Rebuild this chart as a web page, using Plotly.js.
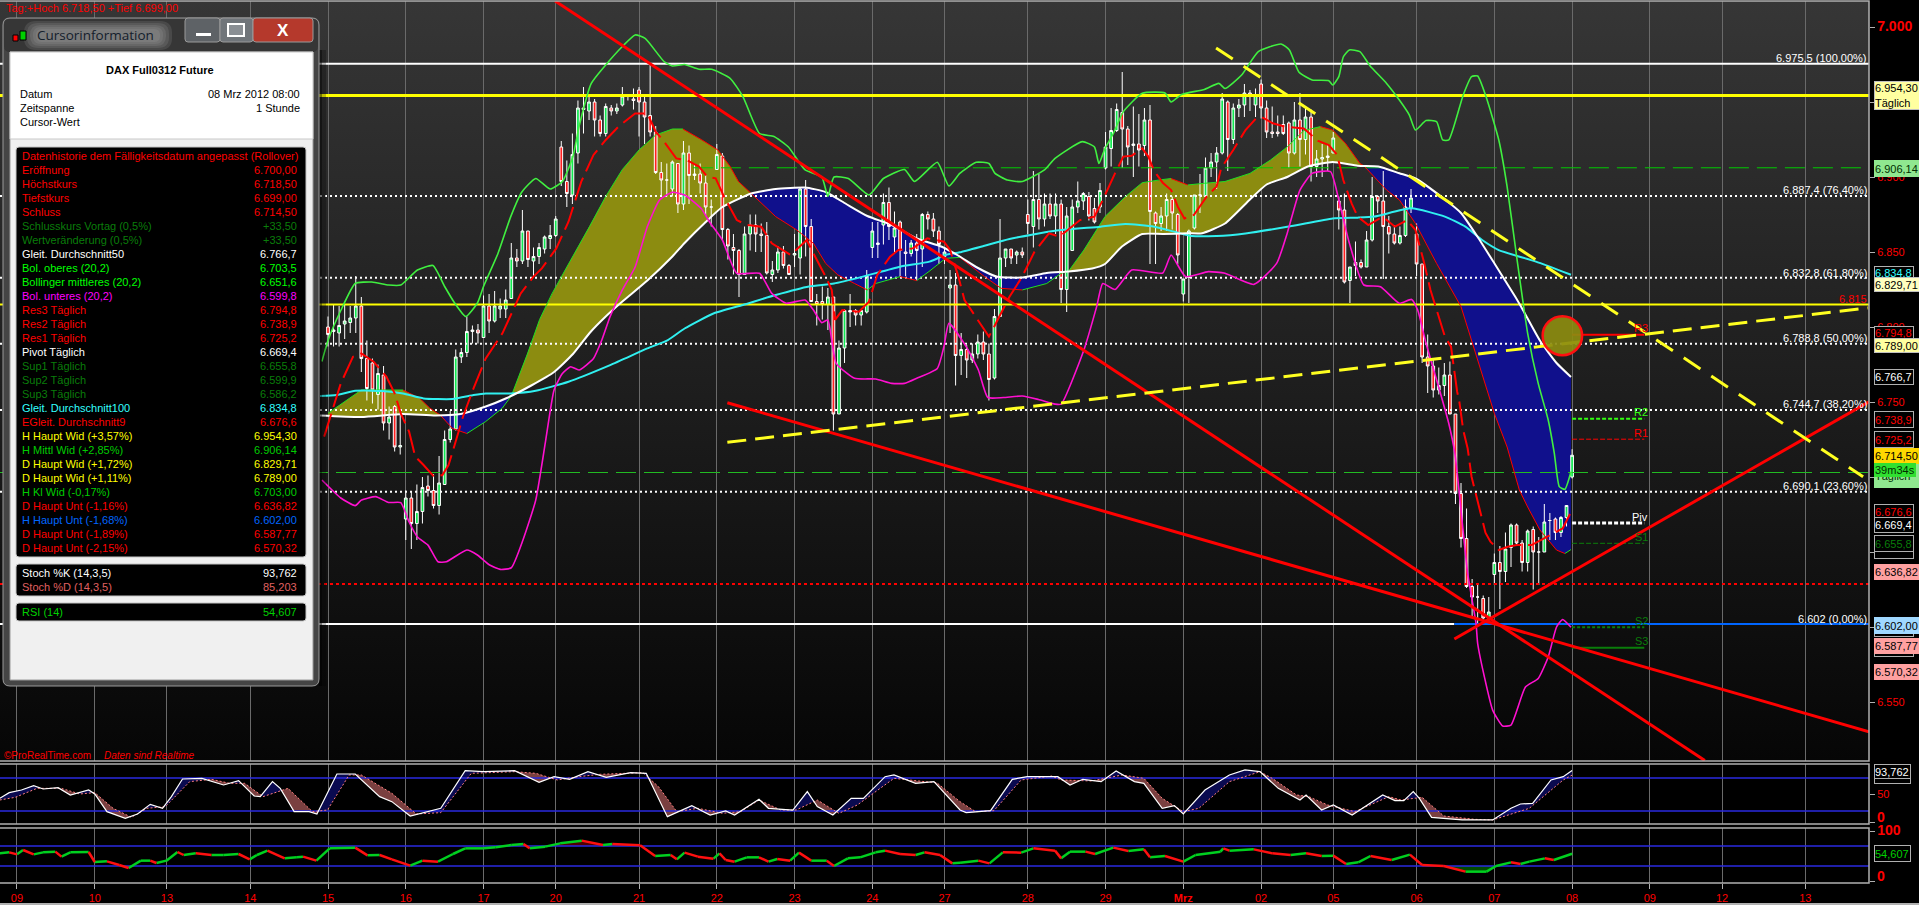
<!DOCTYPE html>
<html>
<head>
<meta charset="utf-8">
<script src="https://cdn.plot.ly/plotly-3.0.1.min.js"></script>
<style>
html,body{margin:0;padding:0;background:#000;overflow:hidden;width:1919px;height:905px}
#bg{position:absolute;left:0;top:1px;width:1869px;height:760px;background:linear-gradient(#363636,#060606)}
#chart{position:absolute;left:0;top:0;width:1919px;height:905px}
</style>
</head>
<body>
<div id="bg"></div>
<div id="chart"></div>
<script>
// ---------- axis labels ----------
const gridBars=[0,14,27,42,56,70,84,97,112,126,140,154,167,182,196,210,224,237,252,266,280,294,307,322];
const dayLabels=['09','10','13','14','15','16','17','20','21','22','23','24','27','28','29','<b>Mrz</b>','02','05','06','07','08','09','12','13'];
const priceTicks=[7000,6950,6900,6850,6800,6750,6700,6650,6600,6550];
const priceTickText=['<span style="font-size:14px"><b>7.000</b></span>','','6.900','6.850','6.800','6.750','','','','6.550'];

// ---------- hourly candles, first bar is number 56 ----------
const firstBar=56;
const candleOpen=[6800,6797,6796,6802,6803,6806,6814,6779,6776,6755,
6768,6736,6747,6720,6672,6686,6669,6677,6694,6691,
6681,6695,6725,6732,6780,6783,6797,6798,6793,6814,
6804,6812,6812,6819,6846,6844,6864,6844,6847,6852,
6859,6861,6920,6897,6888,6916,6946,6944,6950,6938,
6929,6946,6944,6948,6954,6952,6958,6950,6941,6930,
6903,6898,6892,6909,6882,6916,6901,6902,6896,6880,
6905,6914,6865,6853,6851,6835,6862,6868,6862,6861,
6835,6838,6850,6841,6848,6846,6892,6867,6817,6817,
6815,6820,6742,6786,6811,6811,6808,6810,6853,6855,
6868,6883,6860,6870,6850,6849,6856,6852,6875,6872,
6864,6847,6826,6828,6781,6785,6778,6782,6790,6782,
6766,6807,6846,6852,6848,6850,6875,6867,6885,6872,
6882,6874,6882,6825,6851,6880,6884,6887,6879,6880,
6906,6919,6931,6943,6932,6921,6922,6921,6938,6876,
6869,6874,6885,6875,6822,6833,6866,6888,6887,6906,
6910,6916,6950,6925,6946,6948,6956,6948,6962,6946,
6930,6930,6935,6936,6916,6938,6925,6940,6907,6912,
6913,6916,6884,6878,6831,6843,6843,6840,6858,6887,
6884,6867,6862,6856,6861,6879,6862,6842,6780,6774,
6758,6761,6768,6742,6689,6659,6627,6620,6619,6606,
6635,6643,6637,6653,6668,6656,6643,6665,6650,6650,
6671,6672,6663,6673,6700];
const candleHigh=[6807,6815,6814,6815,6814,6834,6820,6791,6779,6775,
6774,6747,6748,6745,6691,6690,6695,6700,6701,6702,
6714,6731,6744,6785,6786,6807,6801,6802,6821,6822,
6824,6819,6825,6856,6852,6878,6864,6853,6856,6861,
6868,6874,6924,6911,6929,6951,6960,6954,6952,6941,
6949,6948,6949,6960,6955,6959,6960,6954,6975,6934,
6910,6909,6911,6909,6924,6921,6909,6909,6902,6885,
6922,6916,6866,6862,6852,6867,6875,6875,6869,6870,
6844,6854,6854,6842,6862,6893,6898,6872,6822,6827,
6826,6820,6791,6812,6822,6812,6811,6838,6870,6870,
6889,6893,6877,6871,6858,6858,6862,6876,6877,6876,
6867,6852,6838,6836,6796,6788,6789,6795,6797,6789,
6812,6872,6852,6852,6851,6853,6885,6904,6902,6889,
6889,6889,6885,6880,6885,6897,6890,6890,6886,6896,
6930,6946,6949,6970,6934,6947,6942,6946,6948,6877,
6880,6889,6887,6876,6832,6865,6888,6902,6913,6916,
6920,6956,6951,6949,6952,6962,6958,6959,6965,6951,
6947,6941,6941,6937,6950,6956,6946,6945,6918,6922,
6922,6930,6887,6889,6840,6857,6845,6864,6900,6888,
6904,6874,6868,6867,6885,6892,6869,6842,6795,6779,
6773,6776,6777,6742,6696,6679,6632,6628,6621,6620,
6649,6654,6663,6669,6669,6658,6665,6667,6660,6682,
6676,6673,6674,6681,6718.5];
const candleLow=[6787,6787,6787,6792,6796,6796,6770,6751,6749,6745,
6731,6725,6717,6715,6658,6652,6658,6669,6687,6679,
6675,6695,6723,6731,6776,6780,6789,6789,6793,6796,
6803,6806,6806,6819,6840,6842,6840,6834,6842,6849,
6852,6860,6894,6880,6882,6909,6929,6938,6927,6927,
6927,6941,6942,6947,6951,6945,6927,6922,6927,6902,
6888,6887,6887,6876,6878,6882,6898,6889,6874,6867,
6905,6858,6845,6835,6820,6835,6851,6850,6850,6835,
6830,6836,6839,6835,6840,6835,6847,6817,6801,6805,
6798,6731,6742,6776,6800,6801,6801,6809,6846,6846,
6855,6858,6849,6834,6834,6847,6831,6840,6865,6860,
6842,6842,6796,6761,6768,6766,6776,6779,6778,6751,
6765,6807,6840,6842,6842,6846,6862,6853,6865,6867,
6872,6862,6816,6810,6851,6876,6878,6871,6869,6876,
6905,6907,6930,6906,6908,6900,6907,6914,6842,6842,
6864,6864,6865,6842,6817,6816,6865,6876,6886,6900,
6892,6915,6904,6922,6940,6940,6944,6940,6939,6926,
6926,6927,6928,6906,6915,6907,6915,6897,6900,6900,
6904,6916,6865,6829,6816,6834,6839,6840,6857,6876,
6832,6849,6855,6855,6860,6876,6834,6776,6756,6753,
6755,6754,6742,6682,6653,6626,6607,6602,6602,6602,
6628,6612,6630,6640,6655,6637,6637,6625,6628,6650,
6658,6658,6660,6667,6699];
const candleClose=[6795,6798,6801,6804,6806,6814,6779,6759,6758,6769,
6736,6740,6720,6721,6686,6669,6677,6693,6691,6681,
6696,6725,6732,6780,6783,6797,6798,6796,6814,6804,
6814,6814,6818,6846,6844,6864,6845,6847,6853,6860,
6861,6872,6897,6889,6915,6946,6945,6950,6938,6929,
6947,6944,6946,6954,6954,6951,6950,6940,6930,6903,
6898,6898,6910,6882,6916,6901,6902,6896,6880,6880,
6915,6865,6854,6851,6835,6862,6868,6862,6861,6836,
6838,6850,6841,6835,6849,6892,6867,6817,6815,6815,
6820,6742,6786,6811,6810,6808,6811,6834,6864,6856,
6883,6867,6866,6851,6849,6856,6851,6875,6872,6864,
6855,6850,6828,6781,6785,6778,6782,6790,6782,6765,
6807,6846,6852,6846,6850,6848,6869,6885,6872,6882,
6874,6882,6825,6874,6880,6884,6889,6874,6870,6891,
6920,6931,6945,6932,6920,6922,6918,6938,6877,6869,
6874,6885,6876,6848,6832,6864,6888,6888,6906,6910,
6916,6952,6925,6946,6948,6956,6955,6955,6946,6930,
6929,6929,6929,6916,6938,6925,6940,6907,6912,6913,
6914,6926,6878,6830,6840,6841,6840,6858,6887,6884,
6867,6862,6856,6861,6880,6886,6842,6780,6774,6758,
6761,6768,6742,6689,6659,6627,6620,6620,6606,6610,
6643,6637,6652,6668,6656,6643,6664,6650,6650,6670,
6671,6663,6673,6681,6714.5];

// ---------- moving averages ----------
const ma50Bar=[54.55,62,69.5,75.4,79.9,84.4,88.1,92.6,96.7,100.1,103.1,106,109,113.5,118,120.2,124,127,132.2,136.6,141.9,145.6,149.3,153.1,157.5,162,166.5,169.75,172.7,176.5,181,185.4,189.3,193.6,195.9,198.9,202.6,206.3,210.8,213.4,217.5,222,225,228.7,232.4,236.9,241.4,245.1,248.9,251.8,257.1,260,263,266,269.8,271.2,274.2,277.2,279.8];
const ma50Val=[6741,6740,6742,6741,6742,6747,6752.5,6761,6770,6782,6796,6807,6817,6831,6847,6856,6870,6880,6889,6892,6893,6890,6882,6874,6868,6859,6853.5,6847,6840,6833.5,6833,6836,6837,6839,6842,6853.5,6862,6862,6862.5,6862.5,6869,6885,6895,6900,6907,6910,6907.5,6907,6902.5,6899,6885,6876,6860,6842.5,6820,6811,6791,6776,6766.7];
const bolMidBar=[56,62,69.5,72.5,74.3,76.2,78.4,81,84.4,87.4,89,91.9,94.1,96.3,99.3,103.1,106,109,112,115,118,119.9,123.2,126.2,128.4,129.9,132.2,136.6,140.4,143.4,145.6,147.8,150.8,153.1,154.6,159,162,164.2,167.2,169.75,174.2,177.2,181,185.4,188,189.3,192.1,195.9,199.6,202.6,205.6,207.8,210.8,213.8,217.5,222,225.7,228.7,231.7,234.7,236.9,239.2,241.8,242.5,246.6,248.9,251.8,255.6,260,263,266,268.3,270.5,272,274.2,277.2,278.7,279.8];
const bolMidVal=[6742.5,6758,6758,6752.5,6746,6741.3,6732.4,6729,6737,6746,6754,6782,6805,6822,6842,6867,6887,6905,6918,6928,6932,6932,6925,6918,6907,6897,6889,6873.6,6864.7,6855.8,6842.4,6834.7,6829,6824.7,6829,6833.6,6831,6837,6845.8,6846.4,6833.6,6825.8,6824.7,6829,6835.8,6837,6851.3,6873.6,6887,6896.2,6898,6899,6894.7,6895.8,6897,6902.4,6911.3,6920,6931,6933.6,6931.3,6922.4,6909,6907.5,6891.3,6884.7,6869,6842.4,6813.6,6778,6742.4,6720,6691.3,6680,6664.7,6651.3,6649,6651.6];
const bolUpBar=[54.9,56,58.3,60.9,63.9,66.9,69.1,72.1,74.9,77,78.8,80.8,82.9,84,86.6,88.9,90.9,93.4,96,98.2,100.1,101.2,103.4,106,109,111.3,113.1,116.5,118,120.2,122.8,125.1,128.4,130.7,133.7,136.3,138.9,141.9,144.9,146,147.1,149.7,153.4,156,159.8,161.6,165.7,167.8,169.75,172.7,175,176.1,178.3,181,185,186.9,191.8,194,194.8,195.9,197.4,199.2,202.6,206.7,207.8,209.7,213.8,216.4,217.5,220.5,223.5,227.6,229.1,230.8,233.2,236.2,236.9,238,238.8,239.9,241.8,243.6,246.6,248.9,250.7,251.8,253.7,255.6,256.7,257.8,260.4,261.9,263,264.5,266.8,268.3,270.1,272,273.9,275.7,276.8,277.7,278.7,279.8];
const bolUpVal=[6777,6791,6811,6829,6830,6828,6828,6838,6841,6827,6816,6807,6816,6827,6849,6873.6,6890,6899,6892,6897,6913.6,6933.6,6962.4,6974.7,6987,6994.7,6992.4,6977,6974,6975,6971.8,6971.8,6965.8,6953.6,6929,6927,6920,6904.7,6900,6887,6900,6899,6888,6899,6905,6897,6909.8,6894,6902.4,6909.8,6909,6902.4,6898,6897,6904.7,6912.4,6923.6,6920,6909,6919,6929,6943.6,6955.8,6956,6950,6955,6958.4,6962.4,6959,6968,6983.6,6988.7,6984.7,6970,6964.7,6964.2,6961.3,6966.9,6980,6984.7,6983.6,6974.2,6962.4,6951.3,6941.3,6931.3,6937.6,6936.9,6924.7,6924.7,6954.7,6966.9,6967.3,6953.6,6924.7,6893.6,6844.7,6795.8,6762.4,6738,6715.8,6693.6,6691.8,6703.5];
const bolLowBar=[54.9,58.3,60.9,62,64.6,66.9,69.1,70.6,72.1,74,75.8,77.3,81,82.9,85.1,87,89,91.1,93.4,95.2,96.7,98.2,99.7,101.2,103.8,105.3,106.8,109,111.3,113.5,115.7,118,120.2,123.2,124.7,127,129.6,133.7,135.9,138.5,141.9,143.4,144.9,146,147.5,150.8,154.6,157.5,159.8,162,165.7,166.9,167.8,170.9,173.1,174.8,177.6,181,183.9,186.9,188,192.1,194.4,195.5,197.7,200.7,206.3,207.8,210.4,214.5,217.5,222.7,226.8,228.7,231,233.2,236.5,238,239.9,242.5,245.5,248.9,251.1,252.2,253.7,256.3,257.8,258.9,261.2,262.7,263,264.2,265.7,267.5,269,271.6,273.9,275.7,277.2,278.3,279.8];
const bolLowVal=[6698,6686,6680.9,6684.6,6686.9,6683,6682.9,6670,6660,6654.6,6643.5,6643.5,6651.3,6648,6641.3,6638.4,6639.5,6658,6684.6,6724.6,6758,6769,6773.5,6771.3,6779,6791.3,6807,6824.7,6840,6867,6884.7,6889.8,6888,6879,6870,6858,6835.8,6835.8,6822.4,6815.8,6818,6811.3,6802.9,6804.7,6775.8,6765.8,6765.3,6762.4,6762.4,6765.8,6772.4,6787,6802.4,6786.9,6771.3,6753,6753,6754,6751.7,6748.6,6748.6,6784.7,6813.6,6829,6825,6838,6836,6848,6833.6,6836.9,6835.8,6828.4,6842.4,6862.4,6891.3,6902.4,6903.6,6884.7,6855.8,6828,6826.9,6815.8,6818.4,6811.3,6789.1,6755.8,6735.7,6715.7,6635.7,6602.4,6589,6566.9,6544.6,6534,6534.6,6560,6565.7,6580,6600,6605,6599.8];
const ma100Bar=[54.55,57.5,60.9,65.7,69.5,73.2,78.4,82.2,84.4,88.9,93.4,99.3,106.8,113.5,117.2,120.2,125.4,130.7,136.6,142.6,147.1,152.3,159,164.3,167.2,169.75,174.2,178.7,186.9,195.1,199.6,204.8,211.5,216,221.2,229.5,236.9,241.4,244.4,251.1,257.1,260.8,263.8,266.8,273.5,279.8];
const ma100Val=[6754,6754.6,6757.5,6757.3,6755.7,6752.4,6752,6754.6,6755.7,6755.7,6757.5,6763.5,6774.6,6785.7,6791.3,6799,6809,6814.7,6821.3,6827,6829,6833.6,6840.2,6843.6,6848,6849.8,6854.2,6858.7,6864.2,6866.9,6868.7,6866.9,6860.7,6860.7,6862.4,6867.3,6872.4,6872.9,6873.6,6879.1,6873.6,6866.9,6858,6851.3,6843.6,6834.8];
const ema9Bar=[55.3,58.3,60.5,62,64.2,66.5,68,69.1,70.6,71.7,73.2,75.1,76.6,77.7,78.8,80.3,82.2,84.4,87.4,89.6,90.7,93,94.5,97.1,99.3,101.6,103.8,106,108.3,111.3,113.5,115,116.5,118.7,120.6,122.8,124.3,125.8,127.3,129.6,131.4,134,135.9,139.3,141,142.2,143.4,145.6,146.7,147.3,148.6,151.6,153.4,154.9,157.2,158.7,161.3,163.9,166.9,168,169.5,170.6,171.6,173.9,175,176.1,178.7,181,183.2,185.8,187.7,189.9,191.4,194,195.5,197.7,199.2,200.7,202.6,203.7,204.8,206.3,207.8,209,210.2,211.9,214.2,216,216.8,219,221.2,223.1,224.2,226.1,228.3,231.7,234.3,236.2,237.7,238.8,240.3,241.4,243.3,245.9,248.1,250.3,251.8,253.3,254.5,257.1,258.2,259.3,259.7,260.4,261.2,261.9,263.4,264.4,265.3,266.8,268.4,270.1,272.7,275,278.3,279.8];
const ema9Val=[6726.9,6762.4,6780.2,6782.4,6776.9,6766.9,6755.8,6742.4,6730.2,6713.6,6708,6700.2,6701.3,6708,6721.3,6740.2,6759.1,6779.1,6795.8,6813.6,6822.4,6833.6,6839.1,6852.4,6870.2,6896.9,6914.7,6924.7,6933.6,6942.4,6942.4,6930.2,6923.6,6912.4,6911.3,6906.9,6900.2,6899.1,6886.9,6871.3,6868,6866.9,6855.8,6848,6853.6,6858,6849.1,6833.6,6824.7,6804.7,6811.3,6810.2,6816.9,6834.7,6846.9,6851.3,6852.4,6859.1,6856.9,6851.3,6833.6,6818,6812.4,6800.2,6793.6,6801.3,6820.2,6833.6,6850.2,6862.4,6860.2,6866.9,6871.3,6873.6,6884.7,6902.4,6913.6,6914.2,6919.1,6913.6,6903.6,6896.2,6891.3,6880.2,6872.4,6874.7,6886.9,6893.6,6905.8,6918,6931.3,6939.1,6939.8,6935.8,6933.6,6932.4,6924,6921.3,6914.7,6898,6882.4,6873.6,6868,6873.6,6866.9,6871.3,6864.7,6843.6,6824.7,6793.6,6786.9,6757,6750.2,6731.3,6719,6700.2,6678,6662.9,6656.9,6651.3,6653.5,6654.6,6654.6,6659,6665.7,6676.6];

// ---------- support / resistance levels ----------
const fibValues=[6975.5,6887.4,6832.8,6788.8,6744.7,6690.1,6602];
const fibLabels=['6.975,5 (100,00%)','6.887,4 (76,40%)','6.832,8 (61,80%)','6.788,8 (50,00%)','6.744,7 (38,20%)','6.690,1 (23,60%)','6.602 (0,00%)'];
const majorRes=6954.3, midRes=6906.14, dayRes=6815, minorRes=6703, daySup=6628.7, majorSup=6602;
const pivotValues=[6794.8,6738.9,6725.2,6669.4,6655.8,6599.9,6586.2];
const pivotNames=['R3','R2','R1','Piv','S1','S2','S3'];

// ---------- trend lines: [bar, price] ends ----------
const trendABars=[96.9,303.9], trendAVals=[7017.3,6511];
const trendBBars=[127.9,333.46], trendBVals=[6749.5,6530.2];
const trendCBars=[258.8,333.46], trendCVals=[6592,6750.2];
const yellowABars=[127.9,333.3], yellowAVals=[6723.1,6812.7];
const yellowBBars=[215.9,332.4], yellowBVals=[6986,6700.2];

// ---------- oscillators ----------
const stochKBar=[-3.1,-1.4,0.8,3,4.7,7.4,9.6,12.9,14,16.2,19.5,21.7,24,26.2,27.8,29.8,33.3,37.2,39.9,42.7,43.8,46,47.4,49.9,52.6,54,57.6,60.9,65.3,67.5,70.8,74.1,76.3,80.7,84,89.6,94,96.7,99.5,102.8,106.1,110.5,113.3,117.1,121.5,124.8,127.6,129.2,133.6,135.3,139.7,142.3,144.1,146.9,150.2,152.4,156.3,157.9,161.8,165.1,169.8,170.9,175.3,179.2,181.9,187.4,189.6,191.9,195.2,197.9,201.2,202.9,206.2,208.4,210,213.9,218.3,221.1,223.8,227.1,231,232.1,234.9,237,240.4,245.9,248.1,249.7,251.4,252.5,254.7,260.2,265.7,269,270.7,272.9,276.2,278.4,280];
const stochKVal=[43,53.4,58.2,66.1,60,62.4,49.1,58.2,50.9,18.8,6.7,14.6,32.1,24.9,46.1,78.2,79.4,67.3,75.2,47.3,46.1,73.4,61.2,18.8,18.8,14.6,87.3,87.3,46.1,37,10.9,18.8,24.9,93.3,91.5,93.3,72.1,82.4,77.6,91.5,81.2,89.7,88.5,9.7,29.7,12.7,20,12.7,41.2,24.9,21.8,55.2,27.9,12.7,43,43,82.4,85.5,70.3,73.4,21.8,17,20.6,77.6,82.4,82.4,67.3,77.6,73.4,92.7,73.4,70.3,24.9,29.7,14.6,58.2,85.5,94.6,91.5,61.2,40,49.1,21.8,30.9,12.7,49.1,38.8,38.8,55.2,43,8.5,3.7,3.7,24.9,32.7,33.9,76.4,82.4,93.762];
const stochDBar=[-3.1,-0.3,3.6,8,11.3,14,17.3,20.6,23.4,26.7,31.1,35,38.3,41,44.3,48.8,53.2,55.9,59.8,62,67.5,71.9,76.3,81.8,89.6,93.4,97.3,101.1,105,112.7,115.5,118.8,122.6,127,130.3,133.6,137.5,140.3,144.1,148,151.3,157.9,163.4,165.6,169.8,172.6,175.9,180.8,186.3,188,193.5,199,202.9,206.2,210,212.8,218.3,223.8,226,230.4,232.6,236,240.9,247,249.2,253,256.9,262.4,265.7,272.3,278.4,280];
const stochDVal=[40,44.9,61.2,61.2,50.9,53.4,24.9,8.5,24.9,27.9,73.4,77.6,70.3,70.3,46.1,61.2,18.8,21.8,85.5,85.5,52.1,14.6,17,88.5,91.5,88.5,76.4,82.4,86.7,89.7,64.3,18.8,24.9,15.8,18.8,40,21.8,21.8,40,15.8,30.9,79.4,73.4,71.5,37,18.8,20.6,76.4,83.6,76.4,74.6,85.5,79.4,43,18.8,24.9,73.4,91.5,79.4,49.1,46.1,30.9,18.8,46.1,40,44.9,10.9,4.9,3.7,24.9,76.4,85.203];
const rsiBar=[-3.1,-1.4,0,1.1,3,4.7,6.9,8,9.6,12.9,14,16.2,18.4,20.1,22.3,24,25.1,26.9,28.9,30,32.2,35,37.2,39.9,41.9,43.2,45.1,48.2,50.4,51.5,53.9,56.3,60.9,63.1,65.3,67.5,70.8,73,75.8,78.5,80.7,84,86.2,89,91.2,92.3,95.1,97.8,101.7,105.5,107.2,112.2,114.9,117.7,118.8,120.2,122.6,125.4,126.5,127.6,129.2,131.4,133.6,135.3,136.9,139.2,140.8,143,145.8,147.1,149.6,151.8,154.6,156.3,159,161.8,163.4,166.2,168.4,169.8,173.1,175.1,177.5,180.8,183,186.9,188,189.6,192.4,194.1,197.4,200.1,202.9,204,206.7,210,212.2,216.7,217.2,218.3,222.7,226,229.3,232.1,234.9,237,239.3,241.5,243.7,247.5,250.8,253,256.9,260.8,264.6,266.3,269,270.7,272.3,275.1,276.7,280];
const rsiVal=[55.3,57.3,53.3,62,53.3,57.3,58.7,48.7,57.3,58,38,39.3,32,26,40.7,40.7,36,40.7,58,52,55.3,52,52,54,43.3,52,60.7,45.3,47.3,48.7,40.7,65.3,66.7,51.3,52,43.3,30.7,40.7,38.7,54,65.3,65.3,67.3,72,74,65.3,68.7,75.3,80.7,72,74,71.3,50,52,43.3,56.7,48.7,44.7,55.3,42,38.7,47.3,47.3,38.7,44,40.7,56.7,40.7,40.7,30,45.3,47.3,57.3,60.7,54,52,57.3,52,35.3,36.7,40.7,35.3,57.3,56.7,65.3,60.7,45.3,58.7,58.7,54,66.7,60,63.3,47.3,50,38.7,52,58.7,65.3,60.7,63.3,55.3,52,55.3,50,50.7,34,37.3,50,42,52.7,32,30,18.7,18.7,30,37.3,34,38.7,45.3,42,54.607];
const stochLevels=[80,20], rsiLevels=[70,30];

// ---------- cursor window rows: label, value, colour name ----------
const quoteRows=[
['Datenhistorie dem Fälligkeitsdatum angepasst (Rollover)','','r'],
['Eröffnung','6.700,00','r'],['Höchstkurs','6.718,50','r'],['Tiefstkurs','6.699,00','r'],['Schluss','6.714,50','r'],
['Schlusskurs Vortag (0,5%)','+33,50','d'],['Wertveränderung (0,5%)','+33,50','d'],
['Gleit. Durchschnitt50','6.766,7','w'],['Bol. oberes (20,2)','6.703,5','g'],['Bollinger mittleres (20,2)','6.651,6','g'],['Bol. unteres (20,2)','6.599,8','m'],
['Res3 Täglich','6.794,8','r'],['Res2 Täglich','6.738,9','r'],['Res1 Täglich','6.725,2','r'],['Pivot Täglich','6.669,4','w'],
['Sup1 Täglich','6.655,8','d'],['Sup2 Täglich','6.599,9','d'],['Sup3 Täglich','6.586,2','d'],
['Gleit. Durchschnitt100','6.834,8','c'],['EGleit. Durchschnitt9','6.676,6','r'],
['H Haupt Wid (+3,57%)','6.954,30','y'],['H Mittl Wid (+2,85%)','6.906,14','l'],['D Haupt Wid (+1,72%)','6.829,71','y'],['D Haupt Wid (+1,11%)','6.789,00','y'],
['H Kl Wid (-0,17%)','6.703,00','l'],['D Haupt Unt (-1,16%)','6.636,82','r'],['H Haupt Unt (-1,68%)','6.602,00','b'],['D Haupt Unt (-1,89%)','6.587,77','r'],['D Haupt Unt (-2,15%)','6.570,32','r']];
const rowColors={r:'#ff0000',d:'#0a7d0a',w:'#ffffff',g:'#00ff00',m:'#ff00ff',c:'#33ffff',y:'#ffff00',l:'#00cc00',b:'#0066ff'};

// ---------- helpers ----------
const W=1919,H=905,PLOT_R=1869;
const XMIN=-3.06,XMAX=333.46;
const FONT='Liberation Sans, Arial, sans-serif';
const fx=p=>p/W, fy=p=>1-p/H;
function at(xs,ys,x){for(let i=0;i<xs.length-1;i++){if(x>=xs[i]&&x<=xs[i+1]){const t=(x-xs[i])/((xs[i+1]-xs[i])||1);return ys[i]+t*(ys[i+1]-ys[i]);}}return x<xs[0]?ys[0]:ys[ys.length-1];}
function band(xA,yA,xB,yB){
  const lo=Math.max(xA[0],xB[0]),hi=Math.min(xA[xA.length-1],xB[xB.length-1]);
  const grid=[...new Set(xA.concat(xB))].filter(v=>v>=lo&&v<=hi).sort((a,b)=>a-b);
  const pts=[];
  grid.forEach((x,i)=>{
    const a=at(xA,yA,x),b=at(xB,yB,x);
    if(i>0){const p=pts[pts.length-1];
      if((p.a-p.b)*(a-b)<0){const t=(p.a-p.b)/((p.a-p.b)-(a-b));const cx=p.x+t*(x-p.x);const cv=p.a+t*(a-p.a);pts.push({x:cx,a:cv,b:cv});}}
    pts.push({x,a,b});
  });
  const out={pos:{x:[],y:[]},neg:{x:[],y:[]}};
  let run=[],sign=0;
  const flush=()=>{if(run.length>1){const t=sign>0?out.pos:out.neg;
      run.forEach(p=>{t.x.push(p.x);t.y.push(p.a);});
      run.slice().reverse().forEach(p=>{t.x.push(p.x);t.y.push(p.b);});
      t.x.push(null);t.y.push(null);}run=[];};
  pts.forEach(p=>{
    const d=p.a-p.b, s=d>0?1:d<0?-1:0;
    if(s!==0&&sign!==0&&s!==sign){const last=run[run.length-1];flush();run=[last];}
    if(s!==0)sign=s;
    run.push(p);
  });
  flush();
  return out;
}
function dirSegments(xs,ys){
  const up={x:[],y:[]},dn={x:[],y:[]};
  for(let i=0;i<xs.length-1;i++){const t=ys[i+1]>=ys[i]?up:dn;t.x.push(xs[i],xs[i+1],null);t.y.push(ys[i],ys[i+1],null);}
  return {up,dn};
}
const line=(x,y,yaxis,color,width,dash)=>({type:'scatter',mode:'lines',x,y,yaxis,xaxis:'x',hoverinfo:'skip',showlegend:false,line:{color,width,dash:dash||'solid'}});
const smooth=t=>{t.line.shape='spline';t.line.smoothing=0.5;return t;};
const fillT=(d,yaxis,color)=>({type:'scatter',mode:'lines',x:d.x,y:d.y,yaxis,xaxis:'x',fill:'toself',fillcolor:color,hoverinfo:'skip',showlegend:false,line:{width:0},connectgaps:false});
const hline=(v,yaxis,color,width,dash,x0,x1)=>line([x0===undefined?XMIN:x0,x1===undefined?XMAX:x1],[v,v],yaxis,color,width,dash);

const traces=[];
// cloud between the 20-period middle band and MA50 (bottom layer)
const cloud=band(bolMidBar,bolMidVal,ma50Bar,ma50Val);
traces.push(fillT(cloud.pos,'y','#8c8c10'));
traces.push(fillT(cloud.neg,'y','#10108c'));
// candles (above the cloud)
traces.push({type:'candlestick',x:candleOpen.map((_,i)=>firstBar+i),open:candleOpen,high:candleHigh,low:candleLow,close:candleClose,
  xaxis:'x',yaxis:'y4',hoverinfo:'skip',showlegend:false,whiskerwidth:0,
  increasing:{line:{color:'#ffffff',width:1},fillcolor:'#10e850'},
  decreasing:{line:{color:'#ffffff',width:1},fillcolor:'#ff2020'}});
// lines on top
const DOT='2px,3px';
traces.push(hline(fibValues[0],'y5','#ffffff',2));
fibValues.slice(1,6).forEach(v=>traces.push(hline(v,'y5','#ffffff',2,DOT)));
traces.push(hline(majorSup,'y5','#ffffff',2,'solid',XMIN,258.8));
traces.push(hline(majorSup,'y5','#0066ff',2,'solid',258.8,XMAX));
traces.push(hline(majorRes,'y5','#ffff00',3));
traces.push(hline(dayRes,'y5','#ffff00',2));
traces.push(hline(midRes,'y5','#00cc00',1,'20px,8px',121.7,XMAX));
traces.push(hline(minorRes,'y5','#22bb22',1,'20px,8px'));
traces.push(hline(daySup,'y5','#ff0000',2,'3px,3px'));
const mid=dirSegments(bolMidBar,bolMidVal);
traces.push(line(mid.up.x,mid.up.y,'y5','#20e020',1));
traces.push(line(mid.dn.x,mid.dn.y,'y5','#ff0000',1));
traces.push(smooth(line(ma100Bar,ma100Val,'y5','#30f0f0',2)));
traces.push(smooth(line(ma50Bar,ma50Val,'y5','#ffffff',2)));
traces.push(smooth(line(bolUpBar,bolUpVal,'y5','#40f040',1.6)));
traces.push(smooth(line(bolLowBar,bolLowVal,'y5','#ff10d0',1.6)));
traces.push(line(ema9Bar,ema9Val,'y5','#ff0000',2,'24px,7px'));
// pivot segments
const PS=280,PE=293;
traces.push(hline(pivotValues[0],'y5','#ff0000',2,'solid',PS,PE));
traces.push(hline(pivotValues[1],'y5','#33ff11',2,'4px,2px',PS,PE));
traces.push(hline(pivotValues[2],'y5','#ff0000',1,'5px,2px',PS,PE));
traces.push(hline(pivotValues[3],'y5','#ffffff',3,'4px,2px',PS,PE));
traces.push(hline(pivotValues[4],'y5','#0a7d0a',1,'5px,2px',PS,PE));
traces.push(hline(pivotValues[5],'y5','#0a7d0a',2,'3px,2px',PS,PE));
traces.push(hline(pivotValues[6],'y5','#0a7d0a',2,'solid',PS,PE));
// trend lines
traces.push(line(trendABars,trendAVals,'y5','#ff0000',3));
traces.push(line(trendBBars,trendBVals,'y5','#ff0000',3));
traces.push(line(trendCBars,trendCVals,'y5','#ff0000',3));
traces.push(line(yellowABars,yellowAVals,'y5','#ffff20',3,'19px,9px'));
traces.push(line(yellowBBars,yellowBVals,'y5','#ffff20',3,'20px,13px'));
// stochastic
const st=band(stochKBar,stochKVal,stochDBar,stochDVal);
traces.push(fillT(st.pos,'y2','#0a0a50'));
traces.push(fillT(st.neg,'y2','#7a4040'));
stochLevels.forEach(v=>traces.push(hline(v,'y2','#2a2ae0',1.5)));
traces.push(line(stochDBar,stochDVal,'y2','#ff8080',1,'2px,2px'));
traces.push(line(stochKBar,stochKVal,'y2','#ffffff',1.2));
// RSI
const rHi=band(rsiBar,rsiVal,[XMIN,XMAX],[rsiLevels[0],rsiLevels[0]]);
const rLo=band(rsiBar,rsiVal,[XMIN,XMAX],[rsiLevels[1],rsiLevels[1]]);
traces.push(fillT(rHi.pos,'y3','#500000'));
traces.push(fillT(rLo.neg,'y3','#004a00'));
rsiLevels.forEach(v=>traces.push(hline(v,'y3','#2a2ae0',1.5)));
const rs=dirSegments(rsiBar,rsiVal);
traces.push(line(rs.up.x,rs.up.y,'y3','#00d020',2.5));
traces.push(line(rs.dn.x,rs.dn.y,'y3','#ff1010',2.5));

// ---------- shapes ----------
const shapes=[];
const ps=(x0,y0,x1,y1,fill,lc,lw)=>shapes.push({type:'rect',xref:'paper',yref:'paper',layer:'above',x0:fx(x0),x1:fx(x1),y0:fy(y1),y1:fy(y0),fillcolor:fill||'rgba(0,0,0,0)',line:{color:lc||'rgba(0,0,0,0)',width:lw===undefined?(lc?1:0):lw}});
function rr(x0,y0,x1,y1,r,fill,lc,lw){
  const X=fx,Y=fy;
  const path=`M ${X(x0+r)} ${Y(y0)} L ${X(x1-r)} ${Y(y0)} Q ${X(x1)} ${Y(y0)} ${X(x1)} ${Y(y0+r)} L ${X(x1)} ${Y(y1-r)} Q ${X(x1)} ${Y(y1)} ${X(x1-r)} ${Y(y1)} L ${X(x0+r)} ${Y(y1)} Q ${X(x0)} ${Y(y1)} ${X(x0)} ${Y(y1-r)} L ${X(x0)} ${Y(y0+r)} Q ${X(x0)} ${Y(y0)} ${X(x0+r)} ${Y(y0)} Z`;
  shapes.push({type:'path',xref:'paper',yref:'paper',layer:'above',path,fillcolor:fill,line:{color:lc||'rgba(0,0,0,0)',width:lw===undefined?(lc?1:0):lw}});
}
// highlighted circle on the chart
shapes.push({type:'circle',xref:'x',yref:'y',layer:'above',x0:274.7,x1:281.8,y0:6781.2,y1:6807.2,fillcolor:'rgba(140,140,16,0.92)',line:{color:'#ff1010',width:2.5}});
// panel frames
ps(-2,1,PLOT_R,761,null,'#b0b0b0',1.5);
ps(-2,764,PLOT_R,824,null,'#b0b0b0',1.5);
ps(-2,828,PLOT_R,883,null,'#b0b0b0',1.5);
ps(0,903,W,905,'#b0b0b0');
// window shadow
ps(319,50,322,686,'rgba(0,0,0,0.55)');
ps(322,50,326,686,'rgba(0,0,0,0.25)');
// cursor window
rr(3,18,319,686,7,'#454545','#9a9a9a',1);
rr(4,19,318,52,6,'#363636');
// soft glow behind the window title
[[24,21,172,50,12],[27,23,169,48,11],[30,25,166,46,10],[33,27,163,44,8],[36,29,160,42,6]].forEach(g=>rr(g[0],g[1],g[2],g[3],g[4],'rgba(170,170,170,0.17)'));
rr(185,18,220,42,3,'#5e6266','#9a9a9a',1);
rr(220,18,253,42,3,'#70757a','#9a9a9a',1);
rr(253,18,313,42,3,'#b5392c','#9a9a9a',1);
ps(196,33,211,36,'#ffffff');
ps(228,24,244,36,'#8a8f94','#ffffff',2);
// window icon
ps(13,35,18,41,'#ff0000','#000',1);
ps(20,31,26,40,'#00d000','#000',1);
ps(10,52,313,680,'#f0f0f0','#9a9a9a',1);
ps(10,52,313,139,'#ffffff','#c8c8c8',1);
rr(16,147,306,557,3,'#000000','#c4c4c4',1);
rr(16,564,306,596,3,'#000000','#c4c4c4',1);
rr(16,603,306,621,3,'#000000','#c4c4c4',1);

// ---------- annotations ----------
const ann=[];
const txt=(px,py,text,color,anchor,size,extra)=>ann.push(Object.assign({xref:'paper',yref:'paper',x:fx(px),y:fy(py),text,showarrow:false,xanchor:anchor||'left',yanchor:'middle',font:{family:FONT,size:size||11,color},borderpad:0},extra||{}));
const box=(x0,y0,w,h,text,bg,fg,bc)=>ann.push({xref:'paper',yref:'paper',x:fx(x0),y:fy(y0+h/2),xanchor:'left',yanchor:'middle',width:w,height:h,align:'left',text,showarrow:false,bgcolor:bg,bordercolor:bc||bg,borderwidth:1,borderpad:0,font:{family:FONT,size:11,color:fg}});

txt(5,8,'Tag:+Hoch 6.718,50 +Tief 6.699,00','#ff0000','left',11);
txt(3,755,'©ProRealTime.com','#ff0000','left',10);
txt(103,755,'<i>Daten sind Realtime</i>','#ff0000','left',10);
// fib labels
[58,190,272.5,338,404,486,619].forEach((py,i)=>txt(1868,py,fibLabels[i],'#ffffff','right',11));
txt(1868,299,'6.815','#ff0000','right',11);
// pivot labels
const pivotTextColors=['#ff0000','#33ff11','#ff0000','#ffffff','#0a7d0a','#0a7d0a','#0a7d0a'];
[328,412,433,517,537,621,641].forEach((py,i)=>txt(1649,py,pivotNames[i],pivotTextColors[i],'right',11));

// right scale boxes
box(1874,82,44,27,'6.954,30<br>Täglich','#ffffa0','#000000','#c0c0c0');
box(1874,161,44,15,'6.906,14','#90e890','#003000');
box(1874,267,38,12,'6.834,8','#000000','#33ffff','#b0b0b0');
box(1874,278,44,13,'6.829,71','#ffffc0','#000000','#c0c0c0');
box(1874,327,38,12,'6.794,8','#000000','#ff0000','#b0b0b0');
box(1874,339,44,13,'6.789,00','#ffffa0','#000000','#c0c0c0');
box(1874,370,38,14,'6.766,7','#000000','#ffffff','#b0b0b0');
box(1874,412,38,15,'6.738,9','#000000','#ff0000','#b0b0b0');
box(1874,432,38,15,'6.725,2','#000000','#ff0000','#b0b0b0');
box(1874,464,44,23,'<br>Täglich','#90e890','#003000');
box(1874,449,44,14,'6.714,50','#ffd800','#000000');
box(1874,464,40,12,'39m34s','#30e030','#003000');
box(1874,505,38,13,'6.676,6','#000000','#ff0000','#b0b0b0');
box(1874,518,38,14,'6.669,4','#000000','#ffffff','#b0b0b0');
box(1874,551,38,7,' ','#000000','#00ff00','#b0b0b0');
box(1874,536,38,15,'6.655,8','#000000','#0a7d0a','#b0b0b0');
box(1874,565,44,14,'6.636,82','#ffa0a0','#000000');
box(1874,632,38,4,' ','#000000','#ffffff','#b0b0b0');
box(1874,618,44,15,'6.602,00','#a0d8ff','#000000');
box(1874,652,38,4,' ','#000000','#ffffff','#b0b0b0');
box(1874,639,44,14,'6.587,77','#ffa0a0','#000000');
box(1874,665,44,14,'6.570,32','#ffa0a0','#000000');
box(1874,776,35,7,' ','#000000','#ffffff','#b0b0b0');
box(1874,765,35,13,'93,762','#000000','#ffffff','#b0b0b0');
box(1874,846,35,15,'54,607','#000000','#00d000','#b0b0b0');
txt(1876,817,'<b>0</b>','#ff0000','left',14);
txt(1876,876,'<b>0</b>','#ff0000','left',14);

// window texts
txt(36,35,'Cursorinformation','#14202c','left',14,{font:{family:'Open Sans, Liberation Sans, sans-serif',size:13.5,color:'#14202c'}});
txt(283,30,'<b>X</b>','#ffffff','center',17);
txt(160,70,'<b>DAX Full0312 Future</b>','#000000','center',11);
txt(19,94,'Datum','#000000');txt(301,94,'08 Mrz 2012 08:00','#000000','right');
txt(19,108,'Zeitspanne','#000000');txt(301,108,'1 Stunde','#000000','right');
txt(19,122,'Cursor-Wert','#000000');
quoteRows.forEach((r,i)=>{const py=156+14*i,c=rowColors[r[2]];txt(21,py,r[0],c);if(r[1])txt(298,py,r[1],c,'right');});
txt(21,573,'Stoch %K (14,3,5)','#ffffff');txt(298,573,'93,762','#ffffff','right');
txt(21,587,'Stoch %D (14,3,5)','#e06060');txt(298,587,'85,203','#e06060','right');
txt(21,612,'RSI (14)','#00d000');txt(298,612,'54,607','#00d000','right');

// ---------- layout ----------
const tickFont={family:FONT,size:11,color:'#ff0000'};
const yBase={side:'right',anchor:'x',ticks:'outside',ticklen:5,tickwidth:1,tickcolor:'#b0b0b0',tickfont:tickFont,showgrid:false,zeroline:false,showline:false,fixedrange:true,tickmode:'array'};
const mainRange=[6510.67,7017.33];
const hidden={overlaying:'y',range:mainRange,visible:false,anchor:'x',fixedrange:true,domain:[fy(761),fy(1)]};
const layout={
  width:W,height:H,margin:{l:0,r:0,t:0,b:0},autosize:false,showlegend:false,
  paper_bgcolor:'rgba(0,0,0,0)',plot_bgcolor:'rgba(0,0,0,0)',dragmode:false,
  xaxis:{domain:[0,PLOT_R/W],range:[XMIN,XMAX],anchor:'y3',tickmode:'array',tickvals:gridBars,ticktext:dayLabels,ticks:'outside',ticklen:5,tickcolor:'#b0b0b0',tickfont:tickFont,showgrid:true,gridcolor:'#6a6a6a',gridwidth:1,zeroline:false,showline:false,fixedrange:true,rangeslider:{visible:false}},
  yaxis:Object.assign({},yBase,{domain:[fy(761),fy(1)],range:mainRange,tickvals:priceTicks,ticktext:priceTickText}),
  yaxis2:Object.assign({},yBase,{domain:[fy(824),fy(764)],range:[-3.64,105.45],tickvals:[50,0],ticktext:['50','']}),
  yaxis3:Object.assign({},yBase,{domain:[fy(883),fy(828)],range:[-4,106],tickvals:[100,0],ticktext:['<span style="font-size:14px"><b>100</b></span>','']}),
  yaxis4:hidden,
  yaxis5:Object.assign({},hidden),
  shapes,annotations:ann
};
Plotly.newPlot('chart',traces,layout,{displayModeBar:false,staticPlot:true,responsive:false});
</script>
</body>
</html>
